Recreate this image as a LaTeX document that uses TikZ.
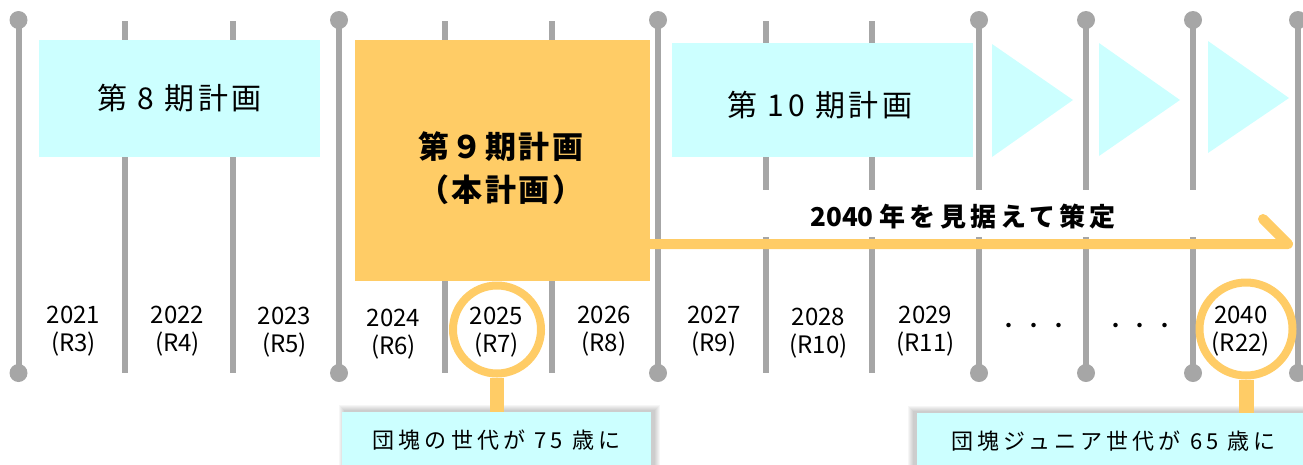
\documentclass[tikz,border=0pt]{standalone}
\usepackage{fontspec}
\setmainfont{Noto Sans CJK JP}
\definecolor{cyfill}{HTML}{CCFFFF}
\definecolor{orfill}{HTML}{FFCC66}
\definecolor{polegray}{HTML}{A6A6A6}
\newcommand\plantext{\fontsize{30}{36}\selectfont\addfontfeatures{LetterSpace=12}}
\newcommand\mainplantext{\fontsize{31}{43}\selectfont\bfseries\addfontfeatures{LetterSpace=8}}
\newcommand\notetext{\fontsize{26}{30}\selectfont\bfseries}
\newcommand\trk[1]{{\addfontfeatures{LetterSpace=16}#1}}
\newcommand\yeartext{\fontsize{24}{28}\selectfont}
\newcommand\calltext{\fontsize{22}{26}\selectfont\addfontfeatures{LetterSpace=19}}
\newcommand\dottext{\fontsize{21}{25}\selectfont\addfontfeatures{LetterSpace=19}}
\tikzset{
  pole/.style={draw=polegray, line width=6pt},
  knob/.style={fill=polegray},
  planbox/.style={fill=cyfill, inner sep=0pt, font=\plantext},
  mainbox/.style={fill=orfill, inner sep=0pt},
  ring/.style={circle, draw=orfill, line width=8pt, inner sep=0pt},
  stem/.style={draw=orfill},
  yr/.style={align=center, font=\yeartext, inner sep=0pt},
  callbox/.style={fill=cyfill, inner sep=0pt, font=\calltext},
  shade/.style={fill=black, opacity=0.035},
  bigarrow/.style={draw=orfill, line width=10pt, line cap=round, line join=round}
}
\begin{document}
\begin{tikzpicture}[x=1pt,y=-1pt]
\useasboundingbox (0,0) rectangle (1303,464);
% poles
\foreach \x in {18.5,339,658,979,1086,1193,1298}{
  \draw[pole] (\x,20) -- (\x,373);
  \fill[knob] (\x,20) circle (9pt);
  \fill[knob] (\x,373) circle (9pt);
}
\foreach \x in {125,232.5,445,552,766,872}{
  \draw[pole] (\x,21) -- (\x,373);
}
% plan boxes
\node[planbox, minimum width=281pt, minimum height=117pt] (p8) at (179.5,98.5) {第 8 期計画};
\node[mainbox, minimum width=295pt, minimum height=241pt] (p9) at (502.5,160.5) {};
\node[align=center, font=\mainplantext] (p9t) at (501,168.5) {第９期計画\\（本計画）};
\node[planbox, minimum width=301pt, minimum height=114pt] (p10) at (822.5,100) {};
\node[font=\plantext] (p10t) at (820,105) {第 10 期計画};
\fill[cyfill] (992,44) -- (1073,100) -- (992,157) -- cycle;
\fill[cyfill] (1099,43) -- (1180,100) -- (1099,156) -- cycle;
\fill[cyfill] (1208,41) -- (1289,98) -- (1208,153) -- cycle;
% note with white background
\fill[white] (680,190) rectangle (1248,237);
\node[font=\notetext] (note) at (963,217) {2040 \trk{年を見据えて策定}};
% arrow
\coordinate (a1) at (1288,244);
\coordinate (a2) at (1263,219);
\draw[bigarrow] (p9.east |- a1) -- (a1) -- (a2);
% years
\node[yr] (y21) at (73.5,331) {2021\\(R3)};
\node[yr] (y22) at (177.6,331) {2022\\(R4)};
\node[yr] (y23) at (284.5,332.5) {2023\\(R5)};
\node[yr] (y24) at (393.5,334) {2024\\(R6)};
\node[yr] (y25) at (496.6,331.7) {2025\\(R7)};
\node[yr] (y26) at (604,331) {2026\\(R8)};
\node[yr] (y27) at (714,331) {2027\\(R9)};
\node[yr] (y28) at (818.4,333) {2028\\(R10)};
\node[yr] (y29) at (925.4,331) {2029\\(R11)};
\node[font=\dottext, inner sep=0pt] (d1) at (1034,328) {・・・};
\node[font=\dottext, inner sep=0pt] (d2) at (1140.5,328) {・・・};
\node[yr] (y40) at (1240.8,331) {2040\\(R22)};
% rings
\node[ring, minimum size=88pt] (r25) at (497,329.5) {};
\node[ring, minimum size=93pt] (r40) at (1246,329) {};
% callout shadows
\foreach \i in {1,...,6}{
  \fill[shade] (345-\i,411-\i) rectangle (654+\i,470+\i);
  \fill[shade] (914-\i,412-\i) rectangle (1310+\i,470+\i);
}
% callouts and stems
\node[callbox, minimum width=309pt, minimum height=56pt] (c25) at (496.5,440) {団塊の世代が 75 歳に};
\node[callbox, minimum width=393pt, minimum height=56pt] (c40) at (1113.5,441) {団塊ジュニア世代が 65 歳に};
\draw[stem, line width=14pt] (r25.south) -- (r25.south |- c25.north);
\draw[stem, line width=15pt] (r40.south) -- (r40.south |- c40.north);
\end{tikzpicture}
\end{document}
